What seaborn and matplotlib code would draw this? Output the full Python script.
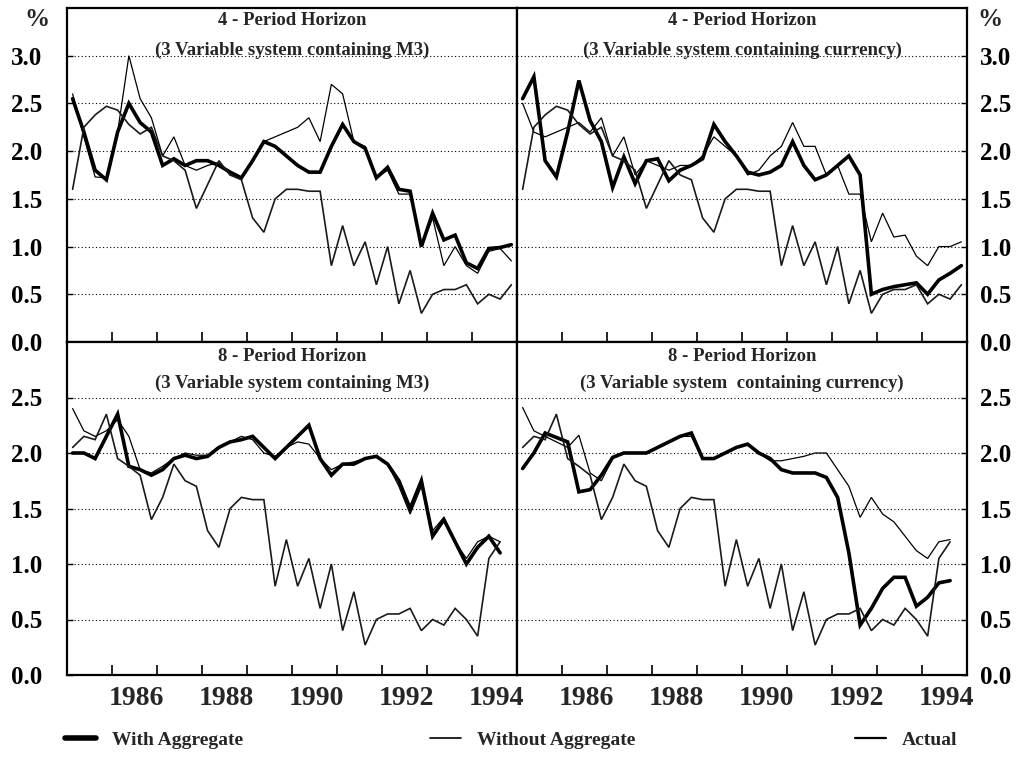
import numpy as np
import pandas as pd
import matplotlib
matplotlib.use("Agg")
import matplotlib.pyplot as plt
import seaborn as sns
from matplotlib.lines import Line2D

# ---------------- data (quarterly, 1985Q1 .. 1994Q4) ----------------
periods = pd.period_range("1985Q1", "1994Q4", freq="Q")
dates = periods.year + (periods.quarter - 0.5) / 4.0

# 4-period horizon, M3 system
tl_with = [2.55, 2.2, 1.8, 1.7, 2.2, 2.5, 2.3, 2.2, 1.85, 1.92,
           1.85, 1.9, 1.9, 1.85, 1.78, 1.72, 1.9, 2.1, 2.05, 1.95,
           1.85, 1.78, 1.78, 2.05, 2.28, 2.1, 2.03, 1.72, 1.83, 1.6,
           1.58, 1.0, 1.35, 1.07, 1.12, 0.83, 0.77, 0.98, 0.99, 1.02]
tl_without = [2.6, 2.15, 1.73, 1.72, 2.2, 3.0, 2.55, 2.35, 1.95, 2.15,
              1.85, 1.8, 1.85, 1.88, 1.75, 1.72, 1.9, 2.1, 2.15, 2.2,
              2.25, 2.35, 2.1, 2.7, 2.6, 2.1, 2.05, 1.72, 1.8, 1.55,
              1.55, 1.0, 1.3, 0.8, 1.0, 0.8, 0.72, 0.95, 0.98, 0.85]
# 4-period horizon, currency system
tr_with = [2.55, 2.78, 1.9, 1.73, 2.2, 2.74, 2.32, 2.1, 1.62, 1.94,
           1.66, 1.9, 1.92, 1.69, 1.8, 1.85, 1.92, 2.28, 2.1, 1.95,
           1.78, 1.75, 1.78, 1.85, 2.1, 1.85, 1.7, 1.75, 1.85, 1.95,
           1.75, 0.5, 0.55, 0.58, 0.6, 0.62, 0.5, 0.65, 0.72, 0.8]
tr_without = [2.5, 2.2, 2.15, 2.2, 2.25, 2.3, 2.2, 2.35, 1.95, 2.15,
              1.75, 1.9, 1.85, 1.8, 1.85, 1.85, 1.95, 2.15, 2.05, 1.95,
              1.75, 1.8, 1.95, 2.05, 2.3, 2.05, 2.05, 1.75, 1.85, 1.55,
              1.55, 1.05, 1.35, 1.1, 1.12, 0.9, 0.8, 1.0, 1.0, 1.05]
top_actual = [1.6, 2.25, 2.38, 2.47, 2.43, 2.28, 2.18, 2.25, 1.95, 1.9,
              1.8, 1.4, 1.65, 1.9, 1.75, 1.7, 1.3, 1.15, 1.5, 1.6,
              1.6, 1.58, 1.58, 0.8, 1.22, 0.8, 1.05, 0.6, 1.0, 0.4,
              0.75, 0.3, 0.5, 0.55, 0.55, 0.6, 0.4, 0.5, 0.45, 0.6]

# 8-period horizon (series end 1994Q3)
bl_with = [2.0, 2.0, 1.95, 2.15, 2.35, 1.88, 1.85, 1.8, 1.85, 1.95,
           1.98, 1.95, 1.97, 2.05, 2.1, 2.12, 2.15, 2.05, 1.95, 2.05,
           2.15, 2.25, 1.95, 1.8, 1.9, 1.9, 1.95, 1.97, 1.9, 1.75,
           1.5, 1.75, 1.25, 1.4, 1.2, 1.0, 1.15, 1.25, 1.1]
bl_without = [2.4, 2.2, 2.15, 2.2, 2.3, 2.15, 1.85, 1.82, 1.88, 1.95,
              2.0, 1.98, 1.98, 2.05, 2.1, 2.15, 2.12, 2.0, 1.97, 2.05,
              2.1, 2.08, 1.95, 1.85, 1.9, 1.92, 1.95, 1.97, 1.9, 1.7,
              1.45, 1.7, 1.3, 1.42, 1.2, 1.05, 1.2, 1.25, 1.2]
br_with = [1.86, 2.0, 2.18, 2.14, 2.1, 1.65, 1.67, 1.8, 1.96, 2.0,
           2.0, 2.0, 2.05, 2.1, 2.15, 2.18, 1.95, 1.95, 2.0, 2.05,
           2.08, 2.0, 1.95, 1.85, 1.82, 1.82, 1.82, 1.78, 1.6, 1.1,
           0.45, 0.6, 0.78, 0.88, 0.88, 0.62, 0.7, 0.83, 0.85]
br_without = [2.41, 2.2, 2.15, 2.1, 2.05, 2.16, 1.82, 1.75, 1.95, 2.0,
              2.0, 2.0, 2.05, 2.1, 2.15, 2.15, 1.95, 1.95, 2.0, 2.05,
              2.08, 2.0, 1.93, 1.93, 1.95, 1.97, 2.0, 2.0, 1.85, 1.7,
              1.42, 1.6, 1.45, 1.38, 1.25, 1.12, 1.05, 1.2, 1.22]
bottom_actual = [2.05, 2.15, 2.12, 2.35, 1.95, 1.88, 1.8, 1.4, 1.6, 1.9,
                 1.75, 1.7, 1.3, 1.15, 1.5, 1.6, 1.58, 1.58, 0.8, 1.22,
                 0.8, 1.05, 0.6, 1.0, 0.4, 0.75, 0.27, 0.5, 0.55, 0.55,
                 0.6, 0.4, 0.5, 0.45, 0.6, 0.5, 0.35, 1.05, 1.2]

titles = ["4 - Period Horizon", "4 - Period Horizon",
          "8 - Period Horizon", "8 - Period Horizon"]
subtitles = ["(3 Variable system containing M3)",
             "(3 Variable system containing currency)",
             "(3 Variable system containing M3)",
             "(3 Variable system  containing currency)"]
year_labels = ["1986", "1988", "1990", "1992", "1994"]
series_names = ["With Aggregate", "Without Aggregate", "Actual"]

# ---------------- style ----------------
sns.set_theme(style="white")
plt.rcParams["font.family"] = ["Liberation Serif", "DejaVu Serif"]
plt.rcParams["font.weight"] = "bold"
plt.rcParams["axes.edgecolor"] = "black"

W, H = 1021, 757
fig = plt.figure(figsize=(W / 100, H / 100), dpi=100)

def fx(px):
    return px / W

def fy(py):
    return 1 - py / H

xl, xm, xr = 67, 517, 967
yt, ym, yb = 8, 342, 675

panels = [
    dict(rect=[fx(xl), fy(ym), fx(xm - xl), (ym - yt) / H], data=(tl_with, tl_without, top_actual), top=True, left=True),
    dict(rect=[fx(xm), fy(ym), fx(xr - xm), (ym - yt) / H], data=(tr_with, tr_without, top_actual), top=True, left=False),
    dict(rect=[fx(xl), fy(yb), fx(xm - xl), (yb - ym) / H], data=(bl_with, bl_without, bottom_actual), top=False, left=True),
    dict(rect=[fx(xm), fy(yb), fx(xr - xm), (yb - ym) / H], data=(br_with, br_without, bottom_actual), top=False, left=False),
]

styles = {"With Aggregate": dict(lw=2.6, color="black"),
          "Without Aggregate": dict(lw=0.9, color="black"),
          "Actual": dict(lw=1.2, color="#1a1a1a")}

for i, p in enumerate(panels):
    ax = fig.add_axes(p["rect"])
    for name, vals in zip(series_names, p["data"]):
        d = pd.DataFrame({"date": dates[:len(vals)], "value": vals})
        sns.lineplot(data=d, x="date", y="value", ax=ax, legend=False,
                     color=styles[name]["color"], linewidth=styles[name]["lw"],
                     solid_joinstyle="miter")
    ax.set_xlim(1985, 1995)
    if p["top"]:
        ax.set_ylim(0, 3.5)
        yt_vals = np.arange(0, 3.01, 0.5)
    else:
        ax.set_ylim(0, 3.0)
        yt_vals = np.arange(0, 2.51, 0.5)
    ax.set_yticks(yt_vals)
    ax.set_yticklabels([f"{v:.1f}" for v in yt_vals], fontsize=18, fontweight="bold")
    for g in yt_vals[1:]:
        ax.axhline(g, color="black", lw=0.8, ls=(0, (1, 2.2)), zorder=0)
    ax.set_xlabel("")
    ax.set_ylabel("")
    # x ticks: year boundaries (marks) + year labels centred in the year
    ax.set_xticks(np.arange(1986, 1995))
    ax.set_xticklabels([])
    ax.set_xticks([int(y) + 0.55 for y in year_labels], minor=True)
    if p["top"]:
        ax.set_xticklabels([], minor=True)
    else:
        ax.set_xticklabels(year_labels, minor=True, fontsize=20, fontweight="bold")
    ax.tick_params(axis="x", which="major", direction="in", length=7, width=1.2,
                   bottom=True, top=False, color="black")
    ax.tick_params(axis="x", which="minor", length=0, pad=8, bottom=True)
    if p["left"]:
        ax.tick_params(axis="y", direction="in", length=4, width=1.0, left=True, right=False,
                       labelleft=True, labelright=False, pad=18, colors="black")
    else:
        ax.tick_params(axis="y", direction="in", length=4, width=1.0, left=False, right=True,
                       labelleft=False, labelright=True, pad=9, colors="black")
    for s in ax.spines.values():
        s.set_linewidth(1.6)
        s.set_color("black")
    ax.set_facecolor("white")
    ty, sy = (0.964, 0.872) if p["top"] else (0.955, 0.876)
    ax.text(0.5, ty, titles[i], transform=ax.transAxes, ha="center", va="center",
            fontsize=13.5, fontweight="bold")
    ax.text(0.5, sy, subtitles[i], transform=ax.transAxes, ha="center", va="center",
            fontsize=13.5, fontweight="bold")

fig.text(fx(37), fy(20), "%", ha="center", va="center", fontsize=18, fontweight="bold")
fig.text(fx(990), fy(20), "%", ha="center", va="center", fontsize=18, fontweight="bold")

# legend: three entries placed along the bottom
leg_x = [65, 430, 855]
for name, x0 in zip(series_names, leg_x):
    lw = {"With Aggregate": 4.0, "Without Aggregate": 1.2, "Actual": 1.6}[name]
    h = Line2D([], [], color="black", lw=lw)
    fig.legend([h], [name], loc="center left", bbox_to_anchor=(fx(x0), fy(740)),
               frameon=False, borderpad=0, borderaxespad=0, handlelength=1.6,
               handletextpad=0.8, prop=dict(size=14, weight="bold"))

fig.savefig("out.png", dpi=100, facecolor="white")
